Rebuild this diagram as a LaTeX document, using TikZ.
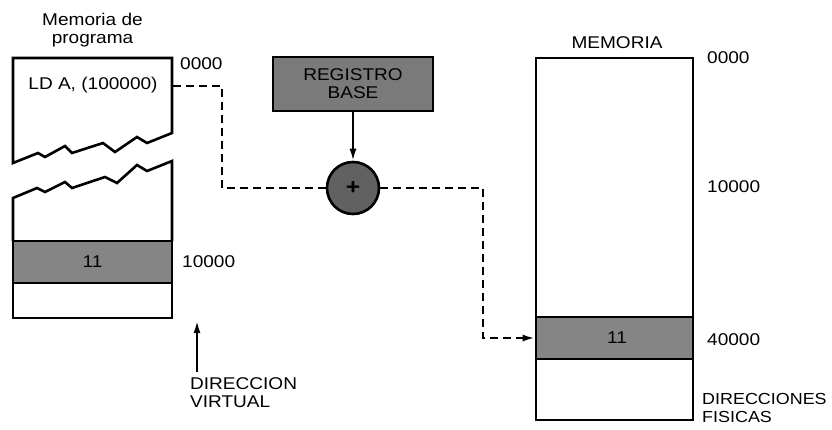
\documentclass[tikz,border=0pt]{standalone}
\usepackage{fontspec}
\setmainfont{Liberation Sans}[FakeStretch=1.12]
\usetikzlibrary{arrows.meta}
\tikzset{
  outline/.style={line width=2.6pt, line join=miter},
  bandbox/.style={draw, outline, fill=black!48, minimum width=159pt, minimum height=42pt, inner sep=0pt},
  plainbox/.style={draw, outline, fill=white, minimum width=159pt, inner sep=0pt},
  lbl/.style={inner sep=0pt, font=\fontsize{17}{18}\selectfont},
  dashline/.style={line width=2.2pt, dash pattern=on 8pt off 5pt},
  tip/.style={-{Latex[length=12pt,width=7pt]}},
}
\begin{document}
\begin{tikzpicture}[x=1pt,y=1pt]
\useasboundingbox (0,0) rectangle (832,-429);
% ---- program memory (virtual) ----
\node[lbl, align=center] (ptitle) at (92.5,-30) {Memoria de\\programa};
\draw[outline] (13,-163) -- (13,-58) -- (172,-58) -- (172,-133)
  -- (147,-143) -- (137,-137) -- (115,-152) -- (103,-143) -- (72,-153) -- (65,-146)
  -- (45,-157) -- (38,-153) -- cycle;
\draw[outline] (13,-241) -- (13,-198) -- (37,-188) -- (45,-192) -- (65,-182) -- (72,-188)
  -- (105,-177) -- (117,-183) -- (137,-165) -- (147,-171) -- (172,-161) -- (172,-241);
\node[bandbox] (vband) at (92.5,-262) {};
\node[lbl] (v11) at (92.5,-262) {11};
\node[plainbox, minimum height=35pt] (vlow) at (92.5,-300.5) {};
\node[lbl] (ld) at (93,-85) {LD A, (100000)};
\coordinate (ldout) at (173,-86);
\node[lbl, anchor=west] (v0) at (180,-64) {0000};
\node[lbl, anchor=west] (v10) at (182,-262) {10000};
\coordinate (vaTail) at (197,-372);
\coordinate (vaHead) at (197,-321);
\draw[line width=2pt, tip] (vaTail) -- (vaHead);
\node[lbl, anchor=north west, align=left] (vdir) at (190,-377) {DIRECCION\\VIRTUAL};
% ---- base register and adder ----
\node[draw, outline, fill=black!52, minimum width=160pt, minimum height=54pt, inner sep=0pt,
      lbl, align=center] (reg) at (353,-84) {REGISTRO\\BASE};
\node[draw, outline, circle, fill=black!62, minimum size=52pt, inner sep=0pt,
      font=\fontsize{22}{22}\selectfont\bfseries] (sum) at (353,-188) {+};
\draw[line width=2pt, tip] (reg.south) -- (sum.north);
\draw[dashline] (ldout) -- (222,-86) |- (sum.west);
% ---- physical memory ----
\node[draw, outline, minimum width=157pt, minimum height=362pt, inner sep=0pt] (mem) at (614.5,-239) {};
\node[bandbox, minimum width=157pt] (pband) at (614.5,-338) {};
\node[lbl] (p11) at (617,-338) {11};
\node[lbl] (mtitle) at (617,-43) {MEMORIA};
\node[lbl, anchor=west] (p0) at (707,-58) {0000};
\node[lbl, anchor=west] (p10) at (707,-187) {10000};
\node[lbl, anchor=west] (p40) at (707,-340) {40000};
\node[lbl, anchor=north west, align=left, font=\fontsize{16}{18}\selectfont] (pdir) at (702,-393) {DIRECCIONES\\FISICAS};
\draw[dashline, tip] (sum.east) -- (483,-188) |- (pband.west);
\end{tikzpicture}
\end{document}
